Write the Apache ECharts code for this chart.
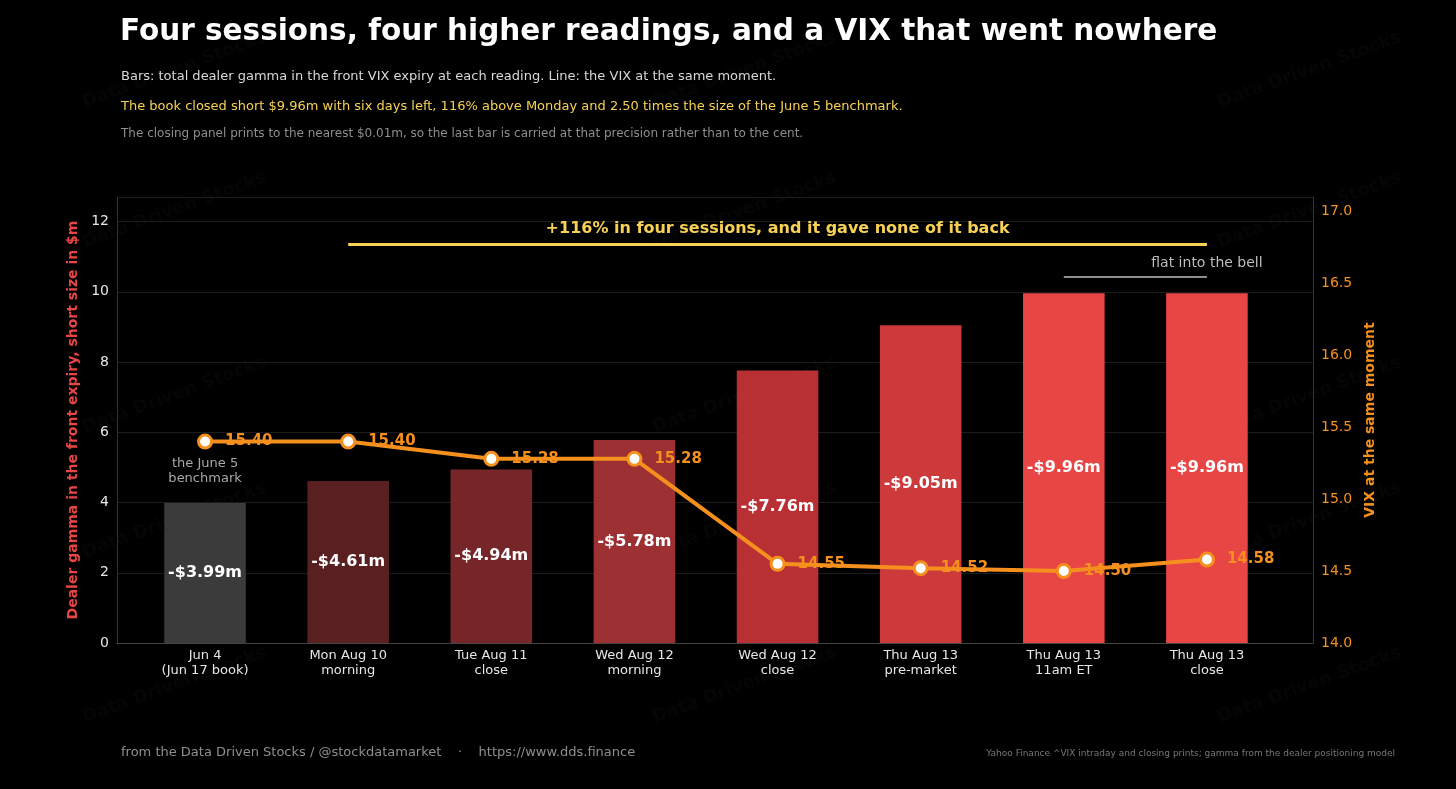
<!DOCTYPE html>
<html>
<head>
<meta charset="utf-8">
<script src="https://cdn.jsdelivr.net/npm/echarts@6/dist/echarts.min.js"></script>
<style>
	html, body { margin: 0; padding: 0; background: #000; }
	#chart { width: 1456px; height: 789px; }
</style>
</head>
<body>
<div id="chart"></div>
<script>
const categories = [
	'Jun 4\n(Jun 17 book)',
	'Mon Aug 10\nmorning',
	'Tue Aug 11\nclose',
	'Wed Aug 12\nmorning',
	'Wed Aug 12\nclose',
	'Thu Aug 13\npre-market',
	'Thu Aug 13\n11am ET',
	'Thu Aug 13\nclose'
]
const gamma = [3.99, 4.61, 4.94, 5.78, 7.76, 9.05, 9.96, 9.96]
const vix = [15.40, 15.40, 15.28, 15.28, 14.55, 14.52, 14.50, 14.58]
const barColors = ['#3b3b3b', '#5a1f20', '#762628', '#9c3032', '#b93034', '#cc3a3c', '#e84545', '#e84545']
const vixLabelBelow = [false, false, false, false, false, false, true, false]

const node = document.getElementById('chart')
const myChart = echarts.init(node)

const font = 'DejaVu Sans, sans-serif'

const watermarks = []
for (const x of [80, 650, 1215]) {
	for (const y of [95, 235, 420, 545, 710]) {
		watermarks.push({
			type: 'text',
			x: x,
			y: y,
			rotation: Math.PI / 9,
			silent: true,
			style: { text: 'Data Driven Stocks', fill: 'rgba(255,255,255,0.018)', font: 'bold 18px ' + font }
		})
	}
}

const option = {
	backgroundColor: '#000',
	textStyle: { fontFamily: font },
	title: [
		{
			text: 'Four sessions, four higher readings, and a VIX that went nowhere',
			left: 115, top: 12,
			textStyle: { color: '#fff', fontSize: 29.5, fontWeight: 'bold', fontFamily: font }
		},
		{
			text: 'Bars: total dealer gamma in the front VIX expiry at each reading. Line: the VIX at the same moment.',
			left: 116, top: 65,
			textStyle: { color: '#d8d8d8', fontSize: 13, fontWeight: 'normal', fontFamily: font }
		},
		{
			text: 'The book closed short $9.96m with six days left, 116% above Monday and 2.50 times the size of the June 5 benchmark.',
			left: 116, top: 95,
			textStyle: { color: '#f7d154', fontSize: 13, fontWeight: 'normal', fontFamily: font }
		},
		{
			text: 'The closing panel prints to the nearest $0.01m, so the last bar is carried at that precision rather than to the cent.',
			left: 116, top: 123,
			textStyle: { color: '#8e8e8e', fontSize: 12, fontWeight: 'normal', fontFamily: font }
		},
		{
			text: 'from the Data Driven Stocks / @stockdatamarket    ·    https://www.dds.finance',
			left: 116, top: 741,
			textStyle: { color: '#8e8e8e', fontSize: 13, fontWeight: 'normal', fontFamily: font }
		},
		{
			text: 'Yahoo Finance ^VIX intraday and closing prints; gamma from the dealer positioning model',
			right: 56, top: 744,
			textStyle: { color: '#777', fontSize: 9, fontWeight: 'normal', fontFamily: font }
		}
	],
	graphic: watermarks,
	grid: [
		{ left: 117, right: 143, top: 197, bottom: 146 },
		{ left: 133.5, right: 177.5, top: 197, bottom: 146 }
	],
	xAxis: [
		{
			type: 'category', gridIndex: 0, data: categories,
			axisLine: { lineStyle: { color: '#444' } },
			axisTick: { show: false }, axisLabel: { show: false }
		},
		{
			type: 'category', gridIndex: 1, data: categories,
			axisLine: { show: false },
			axisTick: { show: false },
			axisLabel: { color: '#e6e6e6', fontSize: 13, lineHeight: 15, margin: 5 }
		}
	],
	yAxis: [
		{
			type: 'value', gridIndex: 0,
			min: 0, max: 12.7, interval: 2,
			name: 'Dealer gamma in the front expiry, short size in $m',
			nameLocation: 'middle', nameGap: 35,
			nameTextStyle: { color: '#e84545', fontSize: 14, fontWeight: 'bold' },
			axisLine: { show: true, lineStyle: { color: '#333' } },
			axisLabel: { color: '#e6e6e6', fontSize: 14, formatter: v => (v % 2 === 0 ? v : '') },
			splitLine: { lineStyle: { color: '#1c1c1c' } }
		},
		{
			type: 'value', gridIndex: 0,
			min: 14, max: 17.1, interval: 0.5,
			name: 'VIX at the same moment',
			nameLocation: 'middle', nameGap: 42, nameRotate: 90,
			nameTextStyle: { color: '#f5901e', fontSize: 14, fontWeight: 'bold' },
			axisLine: { show: true, lineStyle: { color: '#333' } },
			axisLabel: { color: '#f5901e', fontSize: 14, formatter: v => (v <= 17 ? v.toFixed(1) : '') },
			splitLine: { show: false }
		},
		{
			type: 'value', gridIndex: 1, min: 0, max: 12.7,
			axisLine: { show: false }, axisLabel: { show: false }, axisTick: { show: false }, splitLine: { show: false }
		},
		{
			type: 'value', gridIndex: 1, min: 14, max: 17.1, position: 'right',
			axisLine: { show: false }, axisLabel: { show: false }, axisTick: { show: false }, splitLine: { show: false }
		}
	],
	series: [
		{
			type: 'bar',
			xAxisIndex: 1, yAxisIndex: 2,
			data: gamma.map((v, i) => ({ value: v, itemStyle: { color: barColors[i] } })),
			barWidth: '57%',
			label: {
				show: true, position: 'inside',
				color: '#fff', fontSize: 16, fontWeight: 'bold',
				formatter: p => '-$' + p.value.toFixed(2) + 'm'
			},
			markLine: {
				silent: true,
				symbol: ['none', 'arrow'],
				symbolSize: [0, 10],
				data: [
					[
						{ coord: [1, 11.35], lineStyle: { color: '#f7d154', width: 3, type: 'solid' } },
						{ coord: [7, 11.35] }
					],
					[
						{ coord: [6, 10.42], symbol: 'none', lineStyle: { color: '#8e8e8e', width: 2, type: 'solid' } },
						{ coord: [7, 10.42], symbol: 'none' }
					]
				],
				label: { show: false }
			},
			markPoint: {
				silent: true,
				symbol: 'circle', symbolSize: 0,
				data: [
					{
						coord: [4, 11.8],
						label: { show: true, formatter: '+116% in four sessions, and it gave none of it back', color: '#f7d154', fontSize: 16, fontWeight: 'bold', position: 'inside' }
					},
					{
						coord: [6.5, 10.8],
						label: { show: true, formatter: 'flat into the bell', color: '#bdbdbd', fontSize: 14, position: 'inside' }
					},
					{
						coord: [0, 4.9],
						label: { show: true, formatter: 'the June 5\nbenchmark', color: '#a8a8a8', fontSize: 13, lineHeight: 15, position: 'inside' }
					}
				]
			}
		},
		{
			type: 'line',
			xAxisIndex: 1, yAxisIndex: 3,
			z: 5,
			symbol: 'circle',
			symbolSize: 13,
			lineStyle: { color: '#f5901e', width: 4 },
			itemStyle: { color: '#fff', borderColor: '#f5901e', borderWidth: 3 },
			label: {
				show: true,
				color: '#f5901e', fontSize: 15, fontWeight: 'bold',
				formatter: p => p.value.toFixed(2),
				position: 'right',
				distance: 12,
				offset: [0, -15]
			},
			labelLayout: { hideOverlap: false },
			data: vix.map((v, i) => vixLabelBelow[i]
				? { value: v, label: { offset: [0, 15] } }
				: v)
		}
	]
}

myChart.setOption(option)

window.addEventListener('resize', () => {
	myChart.resize()
})
</script>
</body>
</html>
